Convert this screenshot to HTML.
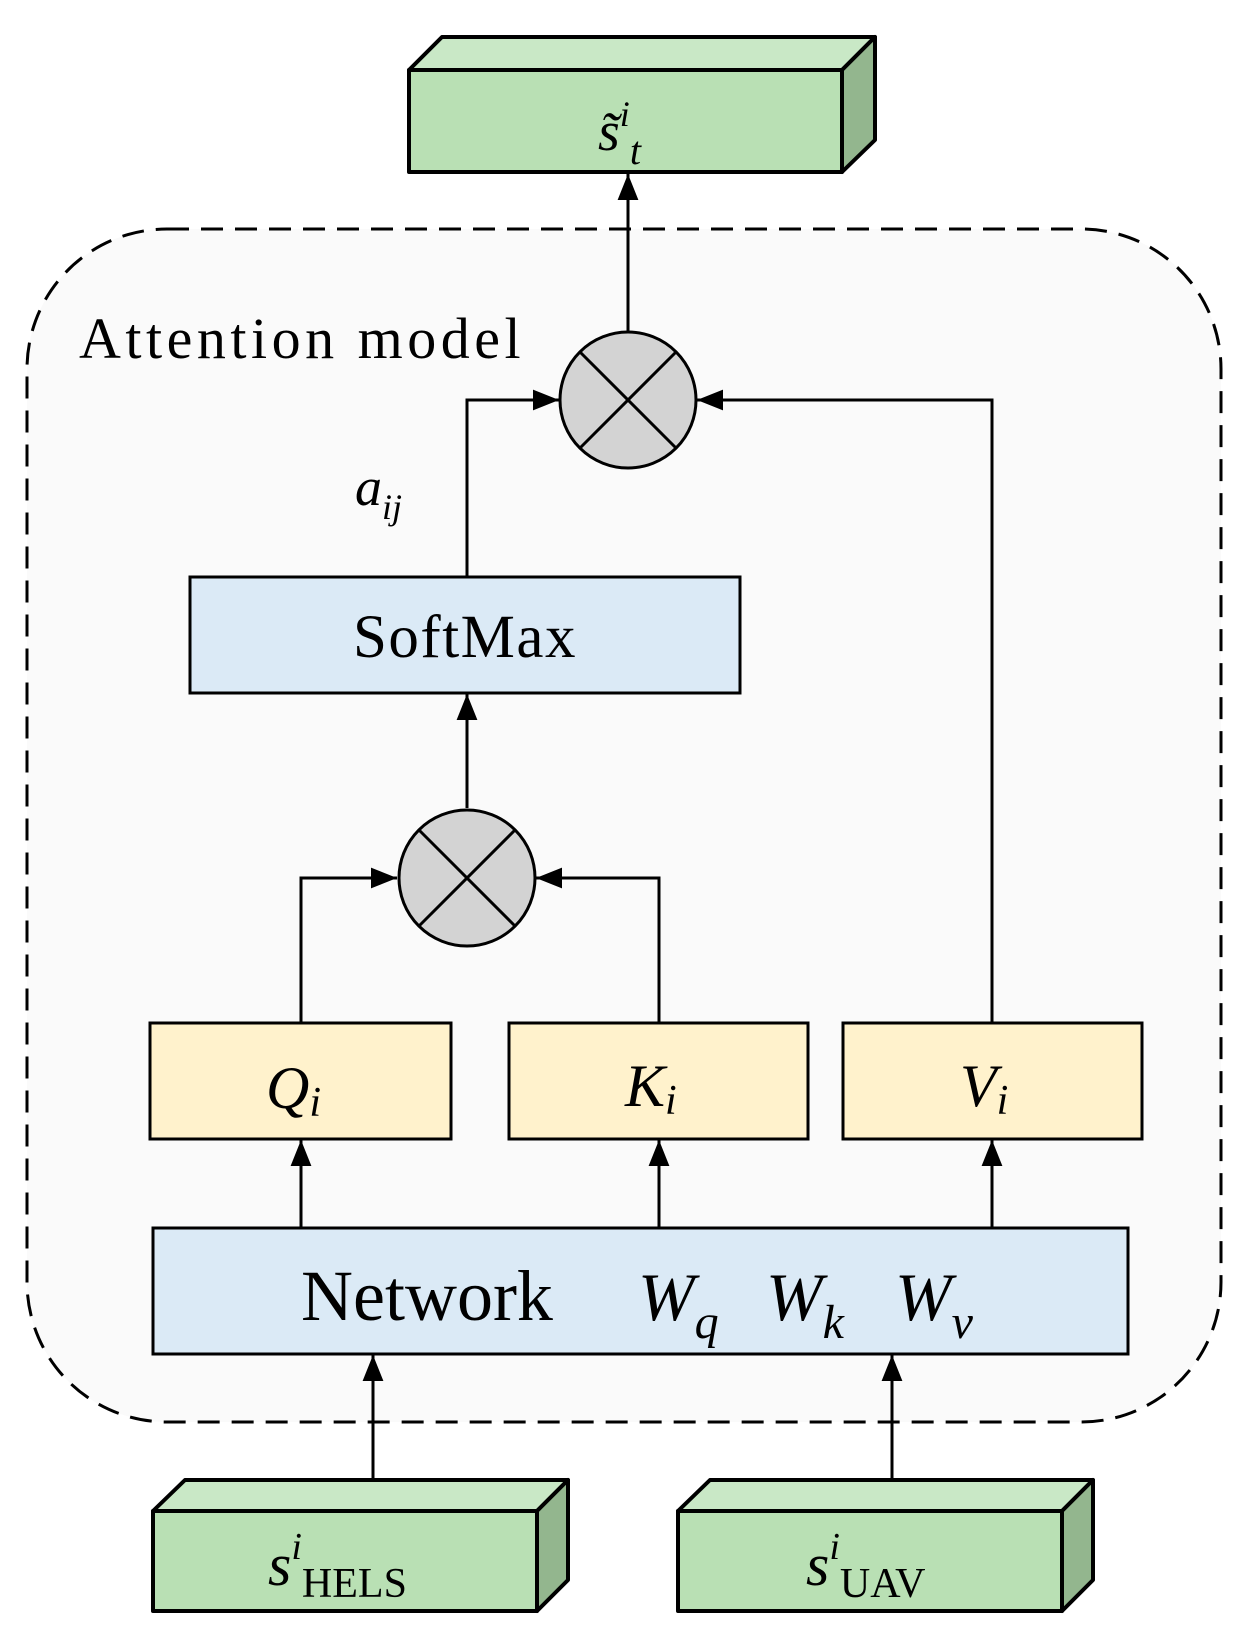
<!DOCTYPE html>
<html><head><meta charset="utf-8"><style>body{margin:0;background:#fff}svg{display:block}</style></head>
<body>
<svg width="1244" height="1641" viewBox="0 0 1244 1641" xmlns="http://www.w3.org/2000/svg" font-family="'Liberation Serif', serif">
<defs>
<marker id="ar" viewBox="0 0 10 10" refX="10" refY="5" markerWidth="26" markerHeight="26" markerUnits="userSpaceOnUse" orient="auto"><path d="M0,1 L10,5 L0,9 z" fill="#000"/></marker></defs>
<rect x="27" y="229" width="1194" height="1193" rx="140" fill="#fafafa" stroke="#000" stroke-width="3" stroke-dasharray="22,12"/>
<g stroke="#000" stroke-width="4" stroke-linejoin="round">
<polygon points="409,70 442,37 875,37 842,70" fill="#c9e8c6"/>
<polygon points="842,70 875,37 875,140 842,172" fill="#93b68e"/>
<rect x="409" y="70" width="433" height="102" fill="#b9e0b4"/>
</g>
<text x="598" y="150" font-size="56" font-style="italic">s̃<tspan dy="-24" font-size="36">i</tspan><tspan dy="38" font-size="40">t</tspan></text>
<text x="79" y="358" font-size="58" letter-spacing="4.5">Attention model</text>
<g stroke="#000" stroke-width="3" fill="none">
<line x1="628" y1="331" x2="628" y2="174" marker-end="url(#ar)"/>
<polyline points="467,577 467,400 559,400" marker-end="url(#ar)"/>
<polyline points="992,1023 992,400 697,400" marker-end="url(#ar)"/>
<line x1="467" y1="808" x2="467" y2="694" marker-end="url(#ar)"/>
<polyline points="301,1023 301,878 397,878" marker-end="url(#ar)"/>
<polyline points="659,1023 659,878 536,878" marker-end="url(#ar)"/>
<line x1="301" y1="1228" x2="301" y2="1140" marker-end="url(#ar)"/>
<line x1="659" y1="1228" x2="659" y2="1140" marker-end="url(#ar)"/>
<line x1="992" y1="1228" x2="992" y2="1140" marker-end="url(#ar)"/>
<line x1="373" y1="1480" x2="373" y2="1355" marker-end="url(#ar)"/>
<line x1="892" y1="1480" x2="892" y2="1355" marker-end="url(#ar)"/>
</g>
<g stroke="#000" stroke-width="3">
<circle cx="628" cy="400" r="68" fill="#d3d3d3"/>
<line x1="580" y1="352" x2="676" y2="448"/><line x1="676" y1="352" x2="580" y2="448"/>
<circle cx="467" cy="878" r="68" fill="#d3d3d3"/>
<line x1="419" y1="830" x2="515" y2="926"/><line x1="515" y1="830" x2="419" y2="926"/>
<rect x="190" y="577" width="550" height="116" fill="#dbeaf6"/>
<rect x="150" y="1023" width="301" height="116" fill="#fff2cc"/>
<rect x="509" y="1023" width="299" height="116" fill="#fff2cc"/>
<rect x="843" y="1023" width="299" height="116" fill="#fff2cc"/>
<rect x="153" y="1228" width="975" height="126" fill="#dbeaf6"/>
</g>
<text x="355" y="505" font-size="54" font-style="italic">a<tspan dy="14" font-size="36">ij</tspan></text>
<text x="465" y="657" font-size="61" letter-spacing="1.5" text-anchor="middle">SoftMax</text>
<text x="266" y="1108" font-size="60" font-style="italic">Q<tspan dy="8" font-size="42">i</tspan></text>
<text x="625" y="1106" font-size="60" font-style="italic">K<tspan dy="8" font-size="42">i</tspan></text>
<text x="960" y="1106" font-size="60" font-style="italic">V<tspan dy="8" font-size="42">i</tspan></text>
<text x="301" y="1320" font-size="72">Network</text>
<text x="638" y="1320" font-size="68" font-style="italic">W<tspan dy="18" font-size="48">q</tspan></text>
<text x="766" y="1320" font-size="68" font-style="italic">W<tspan dy="18" font-size="48">k</tspan></text>
<text x="895" y="1320" font-size="68" font-style="italic">W<tspan dy="18" font-size="48">v</tspan></text>
<g stroke="#000" stroke-width="4" stroke-linejoin="round">
<polygon points="153,1511 185,1480 568,1480 537,1511" fill="#c9e8c6"/>
<polygon points="537,1511 568,1480 568,1580 537,1611" fill="#93b68e"/>
<rect x="153" y="1511" width="384" height="100" fill="#b9e0b4"/>
<polygon points="678,1511 710,1480 1093,1480 1062,1511" fill="#c9e8c6"/>
<polygon points="1062,1511 1093,1480 1093,1580 1062,1611" fill="#93b68e"/>
<rect x="678" y="1511" width="384" height="100" fill="#b9e0b4"/>
</g>
<text x="268" y="1585" font-size="60" font-style="italic">s<tspan dy="-26" font-size="38">i</tspan><tspan dy="38" font-size="42" font-style="normal">HELS</tspan></text>
<text x="806" y="1585" font-size="60" font-style="italic">s<tspan dy="-26" font-size="38">i</tspan><tspan dy="38" font-size="42" font-style="normal">UAV</tspan></text>
</svg>
</body></html>
